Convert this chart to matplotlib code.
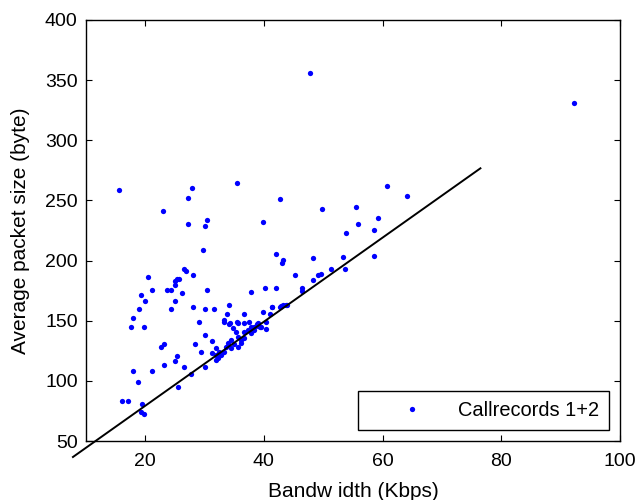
import numpy as np
import matplotlib
matplotlib.use("Agg")
import matplotlib.pyplot as plt

plt.rcParams['font.family'] = ['Liberation Sans', 'DejaVu Sans']

# bandwidth (Kbps), average packet size (byte)
bw = [47.7, 92.3, 15.5, 23.0, 27.2, 27.9, 27.2, 30.4, 30.1, 35.5, 39.8, 42.7, 29.7,
      49.8, 55.6, 60.7, 64.2, 53.8, 55.9, 59.2, 58.5, 49.6, 51.3, 53.4, 53.6, 58.5,
      16.1, 17.0, 19.5, 19.3, 19.8, 18.0, 18.7, 21.2, 23.2, 25.5, 25.0, 25.4, 26.6,
      27.7, 28.4, 29.4, 30.1, 30.1, 22.7, 23.2, 17.6, 19.7, 18.0, 19.0, 19.3, 20.0,
      20.5, 21.2, 23.7, 24.4, 24.4, 25.0, 25.0, 25.0, 25.3, 25.6, 26.2, 26.6, 26.9,
      28.1, 28.1, 29.1, 30.1, 30.4, 31.3, 31.9, 31.6, 33.2, 33.2, 34.1, 33.8, 34.1,
      35.5, 36.6, 37.9, 39.8, 40.2, 41.0, 41.3, 42.0, 42.0, 43.0, 43.2, 42.7, 43.2,
      43.9, 45.2, 46.4, 46.4, 48.2, 48.2, 49.2, 40.3, 40.3, 39.5, 38.8,
      34.3, 35.6, 36.6, 37.5, 37.8, 34.8, 35.3, 35.6, 36.1, 36.6, 37.3, 38.3, 39.0,
      39.3, 34.5, 33.9, 33.6, 33.3, 32.8, 32.3, 31.9, 35.0, 36.1, 35.6, 34.5, 36.6,
      37.8, 38.3, 39.0, 32.4, 31.3, 31.9, 42.9, 43.7, 41.4]
pkt = [355.8, 330.8, 258.5, 241.0, 252.0, 260.0, 230.0, 233.6, 228.6, 264.3, 232.0, 251.0, 208.6,
       242.7, 244.4, 261.8, 253.6, 222.8, 230.3, 235.2, 225.3, 188.7, 192.9, 202.8, 192.9, 203.7,
       83.3, 83.6, 80.6, 74.0, 72.3, 108.1, 99.0, 108.0, 113.0, 94.8, 116.4, 120.5, 111.4,
       105.6, 130.5, 123.9, 111.4, 138.0, 128.0, 130.5, 144.6, 144.6, 152.0, 159.6, 171.0, 166.0,
       186.0, 175.4, 175.4, 175.4, 159.6, 166.0, 180.0, 183.4, 184.5, 184.5, 172.9, 192.8, 191.2,
       187.9, 161.3, 148.8, 159.6, 175.4, 133.0, 127.0, 159.6, 150.5, 148.8, 162.8, 155.6, 147.2,
       148.8, 155.6, 173.9, 157.2, 177.0, 155.6, 161.3, 177.0, 205.3, 197.8, 200.4, 161.3, 162.9,
       162.9, 187.9, 177.0, 174.4, 202.0, 183.7, 187.9, 143.0, 148.8, 144.6, 147.2,
       148.0, 148.0, 148.0, 148.8, 144.6, 143.8, 140.5, 136.3, 133.8, 140.5, 142.1, 144.6, 148.0,
       144.6, 133.8, 131.3, 128.0, 123.9, 121.4, 118.9, 117.2, 130.5, 131.3, 128.0, 127.2, 135.5,
       139.7, 142.1, 145.5, 123.9, 123.0, 121.4, 162.1, 162.9, 161.3]

# reference line
line_x = [7.8, 76.5]
line_y = [36.7, 276.7]

fig = plt.figure(figsize=(6.37, 5.0), dpi=100)
ax = fig.add_axes([0.135, 0.118, 0.838, 0.842])

ax.plot(bw, pkt, 'o', color=(0, 0, 1), markersize=3.8, markeredgewidth=0,
        label='Callrecords 1+2')
ax.plot(line_x, line_y, '-', color='black', linewidth=1.4, clip_on=False)

ax.set_xlim(10, 100)
ax.set_ylim(50, 400)
ax.set_xticks([20, 40, 60, 80, 100])
ax.set_yticks(np.arange(50, 401, 50))
ax.tick_params(direction='in', length=4, width=0.8, top=True, right=True,
               labelsize=14, pad=6)
ax.tick_params(axis='x', pad=9)
for s in ax.spines.values():
    s.set_linewidth(1.0)

ax.set_xlabel('Bandw idth (Kbps)', fontsize=15, labelpad=8)
ax.set_ylabel('Average packet size (byte)', fontsize=15, labelpad=11)

leg = ax.legend(loc='lower right', fontsize=14.4, handlelength=4.4, handletextpad=0.1,
                borderaxespad=0.55, fancybox=False, edgecolor='black', framealpha=1,
                borderpad=0.5)
leg.get_frame().set_linewidth(1.0)

fig.savefig('out.png', dpi=100)
